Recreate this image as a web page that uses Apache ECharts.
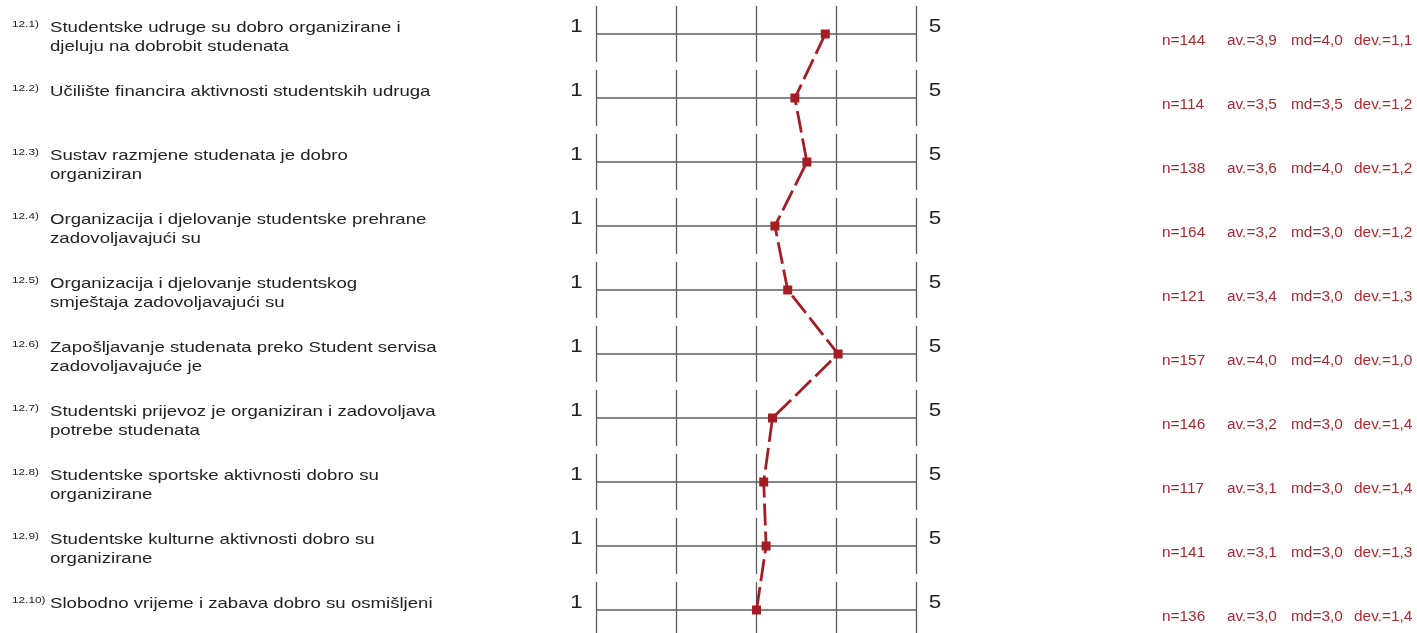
<!DOCTYPE html>
<html lang="hr" style="height: 100%">

<head>
  <meta charset="utf-8">
</head>

<body style="height: 100%; margin: 0; background: #fff">
  <div id="container" style="width: 1417px; height: 633px"></div>

  <script type="text/javascript" src="https://fastly.jsdelivr.net/npm/echarts@6/dist/echarts.min.js"></script>

  <script type="text/javascript">
    // question numbers and texts (line breaks as in the survey report)
    const itemNumbers = ['12.1)', '12.2)', '12.3)', '12.4)', '12.5)', '12.6)', '12.7)', '12.8)', '12.9)', '12.10)'];
    const itemLabels = [
      'Studentske udruge su dobro organizirane i\ndjeluju na dobrobit studenata',
      'Učilište financira aktivnosti studentskih udruga',
      'Sustav razmjene studenata je dobro\norganiziran',
      'Organizacija i djelovanje studentske prehrane\nzadovoljavajući su',
      'Organizacija i djelovanje studentskog\nsmještaja zadovoljavajući su',
      'Zapošljavanje studenata preko Student servisa\nzadovoljavajuće je',
      'Studentski prijevoz je organiziran i zadovoljava\npotrebe studenata',
      'Studentske sportske aktivnosti dobro su\norganizirane',
      'Studentske kulturne aktivnosti dobro su\norganizirane',
      'Slobodno vrijeme i zabava dobro su osmišljeni'
    ];
    // plotted means
    const means = [3.86, 3.48, 3.63, 3.23, 3.39, 4.02, 3.2, 3.09, 3.12, 3.0];
    const counts = [144, 114, 138, 164, 121, 157, 146, 117, 141, 136];
    const avgs = [3.9, 3.5, 3.6, 3.2, 3.4, 4.0, 3.2, 3.1, 3.1, 3.0];
    const medians = [4.0, 3.5, 4.0, 3.0, 3.0, 4.0, 3.0, 3.0, 3.0, 3.0];
    const devs = [1.1, 1.2, 1.2, 1.2, 1.3, 1.0, 1.4, 1.4, 1.3, 1.4];
    const scaleTicks = [1, 2, 3, 4, 5];

    var dom = document.getElementById('container');
    var myChart = echarts.init(dom, null, { renderer: 'canvas' });

    const FONT = '"Liberation Sans", Arial, sans-serif';
    const STRETCH = 1.24;
    const GREY = '#5c5c5c';
    const RED = '#a51d22';

    function fmt(v) {
      return v.toFixed(1).replace('.', ',');
    }

    function text(x, y, str, size, color, align, vAlign, scaleX, lineHeight) {
      return {
        type: 'text',
        x: x,
        y: y,
        scaleX: scaleX,
        silent: true,
        style: {
          text: str,
          x: 0,
          y: 0,
          fill: color,
          font: size + 'px ' + FONT,
          align: align,
          verticalAlign: vAlign,
          lineHeight: lineHeight || size
        }
      };
    }

    function renderRow(params, api) {
      const row = api.value(0);
      const left = api.coord([scaleTicks[0], row]);
      const right = api.coord([scaleTicks[scaleTicks.length - 1], row]);
      const y = left[1];
      const children = [];
      children.push({
        type: 'line',
        shape: { x1: left[0], y1: y, x2: right[0], y2: y },
        style: { stroke: GREY, lineWidth: 1.3 }
      });
      scaleTicks.forEach(function (t) {
        const p = api.coord([t, row]);
        children.push({
          type: 'line',
          shape: { x1: p[0], y1: y - 28, x2: p[0], y2: y + 28 },
          style: { stroke: GREY, lineWidth: 1.3 }
        });
      });
      children.push(text(left[0] - 20, y - 6.5, String(scaleTicks[0]), 18, '#222', 'center', 'middle', STRETCH));
      children.push(text(right[0] + 18.5, y - 6.5, String(scaleTicks[scaleTicks.length - 1]), 18, '#222', 'center', 'middle', STRETCH));
      children.push(text(12, y - 10, itemNumbers[row], 9.5, '#222', 'left', 'middle', STRETCH));
      children.push(text(50, y - 15.5, itemLabels[row], 15, '#222', 'left', 'top', STRETCH, 19));
      const sy = y + 7;
      children.push(text(1162, sy, 'n=' + counts[row], 14, '#a72a30', 'left', 'middle', 1.1));
      children.push(text(1227, sy, 'av.=' + fmt(avgs[row]), 14, '#a72a30', 'left', 'middle', 1.1));
      children.push(text(1291, sy, 'md=' + fmt(medians[row]), 14, '#a72a30', 'left', 'middle', 1.1));
      children.push(text(1354, sy, 'dev.=' + fmt(devs[row]), 14, '#a72a30', 'left', 'middle', 1.1));
      return { type: 'group', children: children };
    }

    var option = {
      animation: false,
      grid: {
        left: 596.5,
        width: 320,
        top: 34,
        height: 576
      },
      xAxis: {
        type: 'value',
        min: 1,
        max: 5,
        show: false
      },
      yAxis: {
        type: 'value',
        min: 0,
        max: itemLabels.length - 1,
        inverse: true,
        show: false
      },
      series: [
        {
          type: 'custom',
          renderItem: renderRow,
          data: itemLabels.map(function (_, i) { return [i]; }),
          encode: { y: 0 },
          clip: false,
          z: 1
        },
        {
          type: 'line',
          data: means.map(function (m, i) { return [m, i]; }),
          symbol: 'rect',
          symbolSize: 9,
          lineStyle: { color: RED, width: 2.8, type: [22, 6] },
          itemStyle: { color: RED },
          silent: true,
          z: 3
        }
      ]
    };

    myChart.setOption(option);
    window.addEventListener('resize', myChart.resize);
  </script>
</body>

</html>
